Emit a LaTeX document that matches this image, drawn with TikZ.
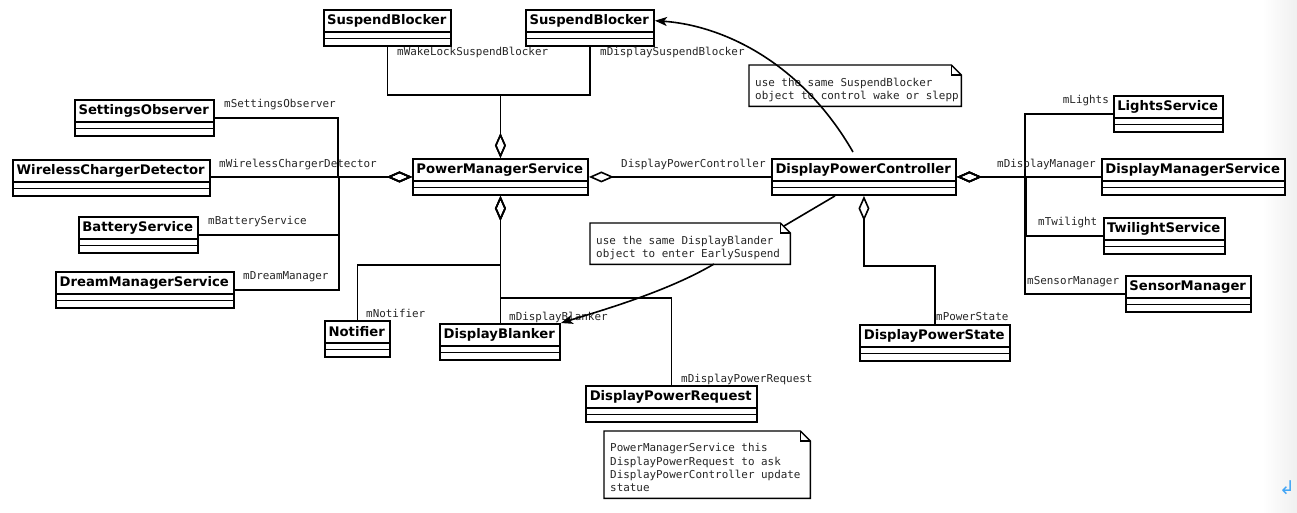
\documentclass[tikz,border=0pt]{standalone}
\usepackage{fontspec}
\setmainfont{DejaVu Sans}
\newfontfamily\clsfont{DejaVu Sans}
\newfontfamily\monofont{DejaVu Sans Mono}
\usetikzlibrary{arrows.meta,calc}
\tikzset{
  clsbox/.style={draw,line width=1.9pt,fill=white,anchor=north west,inner sep=0pt,minimum height=36pt},
  clshead/.style={anchor=north west,inner sep=0pt,minimum height=23pt,font=\clsfont\bfseries\fontsize{13.2}{14}\selectfont},
  lbl/.style={font=\monofont\fontsize{10.9}{12}\selectfont,inner sep=0pt,anchor=base west,text=black!85},
  conn/.style={line width=1.6pt},
  agg/.style={conn,{Diamond[open,length=25pt,width=11pt]}-},
  notebox/.style={inner sep=0pt,anchor=north west},
  notetext/.style={font=\monofont\fontsize{10.9}{13.3}\selectfont,align=left,anchor=north west,inner sep=0pt,text=black!85},
}
\newcommand\umlcls[5]{%
  \node[clsbox,minimum width=#4pt] (#1) at (#2,#3) {};
  \node[clshead,minimum width=#4pt] (#1h) at (#2,#3) {#5};
  \draw[line width=1.9pt] ($(#1.north west)+(0,23)$) -- ($(#1.north east)+(0,23)$);
  \draw[line width=1.9pt] ($(#1.north west)+(0,29.5)$) -- ($(#1.north east)+(0,29.5)$);
}
\newcommand\umlnote[6]{%
  \node[notebox,minimum width=#4pt,minimum height=#5pt] (#1) at (#2,#3) {};
  \draw[line width=1.4pt,fill=white] (#1.north west) -- ($(#1.north east)+(-10,0)$) -- ($(#1.north east)+(0,10)$) -- (#1.south east) -- (#1.south west) -- cycle;
  \draw[line width=1.1pt] ($(#1.north east)+(-10,0)$) -- ($(#1.north east)+(-10,10)$) -- ($(#1.north east)+(0,10)$);
  \node[notetext] (#1t) at ($(#1.north west)+(6,12.5)$) {#6};
}
\begin{document}
\begin{tikzpicture}[x=1pt,y=-1pt]
\useasboundingbox (0,0) rectangle (1297,512);
\fill[white] (0,0) rectangle (1297,512);
\shade[left color=white,right color=black!6] (1262,0) rectangle (1297,512);
\node[text={rgb,255:red,66;green,165;blue,245},font=\fontsize{19}{19}\selectfont,inner sep=0pt] (ret) at (1287,488) {↲};

% notes
\umlnote{noteA}{749}{65}{212}{41}{use the same SuspendBlocker\\object to control wake or slepp}
\umlnote{noteB}{590}{223}{200}{41}{use the same DisplayBlander\\object to enter EarlySuspend}
\umlnote{noteC}{604}{431}{206}{67}{PowerManagerService this\\DisplayPowerRequest to ask\\DisplayPowerController update\\statue}

% classes
\umlcls{SBa}{323}{9}{127}{SuspendBlocker}
\umlcls{SBb}{525}{9}{128}{SuspendBlocker}
\umlcls{SO}{74}{99}{139}{SettingsObserver}
\umlcls{WCD}{12}{159}{197}{WirelessChargerDetector}
\umlcls{BS}{78}{216}{119}{BatteryService}
\umlcls{DMS}{55}{271}{178}{DreamManagerService}
\umlcls{PMS}{412}{158}{175}{PowerManagerService}
\umlcls{DPC}{771}{158}{184}{DisplayPowerController}
\umlcls{LS}{1113}{95}{109}{LightsService}
\umlcls{DMSv}{1101}{158}{183}{DisplayManagerService}
\umlcls{TS}{1103}{217}{121}{TwilightService}
\umlcls{SM}{1125}{275}{125}{SensorManager}
\umlcls{NT}{324}{320}{65}{Notifier}
\umlcls{DB}{439}{323}{120}{DisplayBlanker}
\umlcls{DPR}{585}{385}{171}{DisplayPowerRequest}
\umlcls{DPS}{859}{324}{150}{DisplayPowerState}

% aggregations
\draw[agg] (PMS.west) -- ++(-74,0) |- (SO.east);
\draw[agg] (PMS.west) -- (PMS.west -| WCD.east);
\draw[agg] (PMS.west) -- ++(-73,0) |- (BS.east);
\draw[agg] (PMS.west) -- ++(-73,0) |- (DMS.east);
\draw[agg] (PMS.north) -- ++(0,-63) -| (SBa.south);
\draw[agg] (PMS.north) -- ++(0,-63) -| (SBb.south);
\draw[agg] (PMS.east) -- (DPC.west);
\draw[agg] (PMS.south) -- (PMS.south |- DB.north);
\draw[agg] (PMS.south) -- ++(0,69) -| (NT.north);
\draw[agg] (PMS.south) -- ++(0,102) -| (DPR.north);
\draw[agg] (DPC.east) -- ++(68,0) |- (LS.west);
\draw[agg] (DPC.east) -- (DMSv.west);
\draw[agg] (DPC.east) -- ++(69,0) |- (TS.west);
\draw[agg] (DPC.east) -- ++(68,0) |- (SM.west);
\draw[agg] (DPC.south) -- ++(0,70) -| (DPS.north);

% labels
\node[lbl] (lWL) at (397,55) {mWakeLockSuspendBlocker};
\node[lbl] (lDS) at (600,55) {mDisplaySuspendBlocker};
\node[lbl] (lSO) at (224,107) {mSettingsObserver};
\node[lbl] (lWC) at (219,167) {mWirelessChargerDetector};
\node[lbl] (lBS) at (208,224) {mBatteryService};
\node[lbl] (lDM) at (243,279) {mDreamManager};
\node[lbl] (lDPC) at (621,167) {DisplayPowerController};
\node[lbl] (lNT) at (366,317) {mNotifier};
\node[lbl] (lDB) at (509,320) {mDisplayBlanker};
\node[lbl] (lDPR) at (681,382) {mDisplayPowerRequest};
\node[lbl] (lPS) at (936,320) {mPowerState};
\node[lbl,anchor=base east] (lLS) at (1109,103) {mLights};
\node[lbl] (lDMv) at (997,167) {mDisplayManager};
\node[lbl] (lTS) at (1038,225) {mTwilight};
\node[lbl] (lSM) at (1027,284) {mSensorManager};

% note links
\coordinate (dpcTop) at (853,152);
\draw[conn,-{Stealth[length=12pt,width=9pt,inset=3pt]}] (dpcTop) .. controls (800,60) and (720,25) .. (SBb.east |- SBbh.east);
\coordinate (dpcBot) at ($(DPC.south west)+(64,0)$);
\coordinate (noteBc) at (784,226);
\draw[conn] (dpcBot) -- (noteBc);
\coordinate (noteBb) at (714,264);
\draw[conn,-{Stealth[length=12pt,width=9pt,inset=3pt]}] (noteBb) .. controls (670,290) and (610,308) .. (DB.north east);
\end{tikzpicture}
\end{document}
